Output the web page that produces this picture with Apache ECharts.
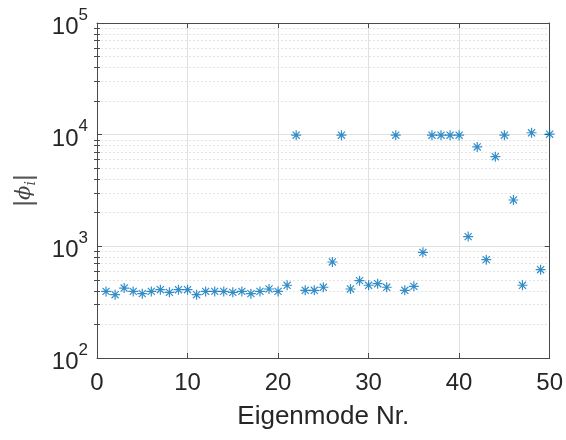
<!DOCTYPE html>
<html>
<head>
<meta charset="utf-8">
<script src="https://cdn.jsdelivr.net/npm/echarts@6/dist/echarts.min.js"></script>
<style>html,body{margin:0;padding:0;background:#fff;}#c{width:566px;height:440px;}</style>
</head>
<body>
<div id="c"></div>
<script>
const modes = [1,2,3,4,5,6,7,8,9,10,11,12,13,14,15,16,17,18,19,20,21,22,23,24,25,26,27,28,29,30,31,32,33,34,35,36,37,38,39,40,41,42,43,44,45,46,47,48,49,50];
const phiAbs = [395,369,423,395,377,395,409,387,409,409,369,395,395,395,387,395,377,395,415,395,
  448,9900,404,404,430,724,9900,415,493,448,463,430,9900,404,438,883,9900,9900,9900,9900,
  1222,7760,760,6350,9900,2600,448,10400,618,10100];
const xTicks = [0,10,20,30,40,50];
const yMajor = [100,1000,10000,100000];
const yMinor = [200,300,400,500,600,700,800,900,2000,3000,4000,5000,6000,7000,8000,9000,20000,30000,40000,50000,60000,70000,80000,90000];

const FONT = 'Liberation Sans';
const TXT = '#262626';
const AX = '#4a4a4a';
const chart = echarts.init(document.getElementById('c'), null, {renderer:'canvas'});
const star = 'path://M0,-1L0,1M-1,0L1,0M-0.71,-0.71L0.71,0.71M-0.71,0.71L0.71,-0.71';

const gridPos = {left:97, right:16, top:23, bottom:82};
const yBase = {type:'log', logBase:10, min:100, max:100000, gridIndex:0};

chart.setOption({
  animation:false,
  grid:Object.assign({show:false}, gridPos),
  xAxis:[
    {type:'value', min:0, max:50, interval:10, position:'bottom',
     name:'Eigenmode Nr.', nameLocation:'middle', nameGap:46,
     nameTextStyle:{fontFamily:FONT, fontSize:26, color:TXT},
     axisLine:{show:true, onZero:false, lineStyle:{color:AX, width:1}},
     axisTick:{show:true, inside:true, length:5, lineStyle:{color:AX}, customValues:xTicks},
     axisLabel:{fontFamily:FONT, fontSize:24, color:TXT, margin:13, customValues:xTicks},
     splitLine:{show:true, lineStyle:{color:'#e0e0e0', width:1}}},
    {type:'value', min:0, max:50, interval:10, position:'top',
     axisLine:{show:true, onZero:false, lineStyle:{color:AX, width:1}},
     axisTick:{show:true, inside:true, length:5, lineStyle:{color:AX}, customValues:xTicks},
     axisLabel:{show:false}, splitLine:{show:false}}
  ],
  yAxis:[
    Object.assign({}, yBase, {position:'left',
     name:'{p|\u007C}{f|\u03D5}{i|i}{p|\u007C}', nameLocation:'middle', nameGap:59, nameRotate:90,
     nameTextStyle:{padding:[0,0,0,0], rich:{
       p:{fontFamily:FONT, fontSize:26, color:'#555'},
       f:{fontFamily:'DejaVu Serif', fontStyle:'italic', fontSize:21, color:'#444'},
       i:{fontFamily:'DejaVu Serif', fontStyle:'italic', fontSize:14, color:'#444', verticalAlign:'bottom', padding:[9,0,0,0]}
     }},
     axisLine:{show:true, onZero:false, lineStyle:{color:AX, width:1}},
     axisTick:{show:true, inside:true, length:5, lineStyle:{color:AX}, customValues:yMajor},
     axisLabel:{margin:9, customValues:yMajor,
       formatter:function(v){return '{b|10}{s|' + Math.round(Math.log10(v)) + '}';},
       rich:{
         b:{fontFamily:FONT, fontSize:24, color:TXT, verticalAlign:'bottom', padding:[9,0,0,0]},
         s:{fontFamily:FONT, fontSize:17, color:TXT, verticalAlign:'top'}
       }},
     splitLine:{show:true, lineStyle:{color:'#e0e0e0', width:1}}}),
    Object.assign({}, yBase, {position:'left',
     axisLine:{show:false},
     axisTick:{show:true, inside:true, length:3, lineStyle:{color:AX}, customValues:yMinor},
     axisLabel:{show:false},
     splitLine:{show:true, lineStyle:{color:'#e3e3e3', width:1, type:[2,2]}}}),
    Object.assign({}, yBase, {position:'right',
     axisLine:{show:true, onZero:false, lineStyle:{color:AX, width:1}},
     axisTick:{show:true, inside:true, length:5, lineStyle:{color:AX}, customValues:yMajor},
     axisLabel:{show:false}, splitLine:{show:false}}),
    Object.assign({}, yBase, {position:'right',
     axisLine:{show:false},
     axisTick:{show:true, inside:true, length:3, lineStyle:{color:AX}, customValues:yMinor},
     axisLabel:{show:false}, splitLine:{show:false}})
  ],
  series:[{
    type:'scatter', xAxisIndex:0, yAxisIndex:0,
    data:modes.map(function(m,i){return [m, phiAbs[i]];}),
    symbol:star, symbolSize:10,
    itemStyle:{color:'rgba(0,0,0,0)', borderColor:'#0072BD', borderWidth:1.2},
    emphasis:{disabled:true}
  }]
});
</script>
</body>
</html>
